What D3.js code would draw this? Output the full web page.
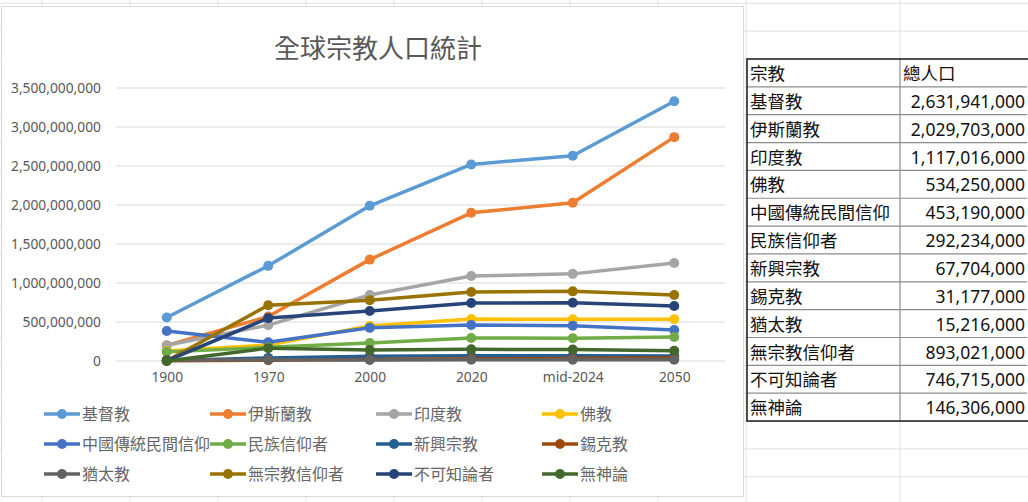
<!DOCTYPE html>
<html>
<head>
<meta charset="utf-8">
<script src="https://cdn.jsdelivr.net/npm/d3@7"></script>
<style>
  body { margin: 0; background: #fff; }
  svg text { font-family: "Noto Sans", "Noto Sans CJK TC", sans-serif; }
  .cjk { font-family: "Noto Sans CJK TC", sans-serif; }
</style>
</head>
<body>
<svg id="chart"></svg>
<script>
// data
var years = ["1900", "1970", "2000", "2020", "mid-2024", "2050"];
var religions = ["基督教", "伊斯蘭教", "印度教", "佛教", "中國傳統民間信仰", "民族信仰者",
    "新興宗教", "錫克教", "猶太教", "無宗教信仰者", "不可知論者", "無神論"];
var colors = ["#5B9BD5", "#ED7D31", "#A5A5A5", "#FFC000", "#4472C4", "#70AD47",
    "#255E91", "#9E480E", "#636363", "#997300", "#264478", "#43682B"];

// population per year (mid-2024 from table)
var christians   = [558000000, 1220000000, 1990000000, 2520000000, 2631941000, 3330000000];
var muslims      = [200000000, 570000000, 1300000000, 1900000000, 2029703000, 2870000000];
var hindus       = [203000000, 460000000, 846000000, 1090000000, 1117016000, 1256000000];
var buddhists    = [127000000, 205000000, 450000000, 538000000, 534250000, 535000000];
var folk         = [385000000, 240000000, 425000000, 462000000, 453190000, 397000000];
var ethnic       = [117000000, 175000000, 231000000, 295000000, 292234000, 308000000];
var newrel       = [6000000, 40000000, 62000000, 66000000, 67704000, 64000000];
var sikhs        = [3000000, 10000000, 20000000, 28000000, 31177000, 38000000];
var jews         = [12000000, 15000000, 14000000, 15000000, 15216000, 16000000];
var nonreligious = [3000000, 715000000, 780000000, 885000000, 893021000, 846000000];
var agnostics    = [3000000, 550000000, 640000000, 744000000, 746715000, 705000000];
var atheists     = [200000, 165000000, 141000000, 150000000, 146306000, 131000000];

var seriesValues = [christians, muslims, hindus, buddhists, folk, ethnic,
    newrel, sikhs, jews, nonreligious, agnostics, atheists];
var yTicks = [0, 500000000, 1000000000, 1500000000, 2000000000, 2500000000, 3000000000, 3500000000];

var tableHeader = ["宗教", "總人口"];
var totals = [2631941000, 2029703000, 1117016000, 534250000, 453190000, 292234000,
    67704000, 31177000, 15216000, 893021000, 746715000, 146306000];

// svg
var svgWidth = 1028, svgHeight = 502;
var svg = d3.select("#chart").attr("width", svgWidth).attr("height", svgHeight);

// spreadsheet grid behind everything
var rowH = 27.85;
var colLines = d3.range(42, 750, 88).concat([900]);
var rowLines = d3.range(3.3, svgHeight, rowH);
svg.append("g").selectAll("line").data(colLines).enter().append("line")
    .attr("x1", d => d).attr("x2", d => d).attr("y1", 0).attr("y2", svgHeight)
    .attr("stroke", "#e1e1e1").attr("stroke-width", 1);
svg.append("g").selectAll("line").data(rowLines).enter().append("line")
    .attr("x1", 0).attr("x2", svgWidth).attr("y1", d => d).attr("y2", d => d)
    .attr("stroke", "#e1e1e1").attr("stroke-width", 1);

// chart area
svg.append("rect")
    .attr("x", 1.5).attr("y", 6.5).attr("width", 742).attr("height", 490)
    .attr("fill", "#fff").attr("stroke", "#d9d9d9").attr("stroke-width", 1);

svg.append("text")
    .attr("class", "cjk")
    .attr("x", 378).attr("y", 58)
    .attr("text-anchor", "middle")
    .attr("font-size", "26px")
    .attr("fill", "#595959")
    .text("全球宗教人口統計");

var xScale = d3.scalePoint().domain(years).range([116, 725]).padding(0.5);
var yScale = d3.scaleLinear().domain([0, 3500000000]).range([361, 88]);

// gridlines
svg.append("g").selectAll("line").data(yTicks).enter().append("line")
    .attr("x1", 116).attr("x2", 725)
    .attr("y1", d => yScale(d)).attr("y2", d => yScale(d))
    .attr("stroke", "#d9d9d9").attr("stroke-width", 1.2);

// y axis
var yAxis = d3.axisLeft(yScale).tickValues(yTicks).tickFormat(d3.format(",")).tickSize(0).tickPadding(0);
var yG = svg.append("g").attr("transform", "translate(101,0)").call(yAxis);
yG.select(".domain").remove();
yG.selectAll("text").attr("font-size", "13.8px").attr("fill", "#595959")
    .style("font-family", "'Noto Sans', sans-serif");

// x axis
var xAxis = d3.axisBottom(xScale).tickSize(0).tickPadding(0);
var xG = svg.append("g").attr("transform", "translate(0,372)").call(xAxis);
xG.select(".domain").remove();
xG.selectAll("text").attr("font-size", "13.8px").attr("fill", "#595959")
    .style("font-family", "'Noto Sans', sans-serif");

// lines
var line = d3.line().x((d, i) => xScale(years[i])).y(d => yScale(d));
var seriesG = svg.append("g").selectAll("g").data(seriesValues).enter().append("g");
seriesG.append("path")
    .attr("d", d => line(d))
    .attr("fill", "none")
    .attr("stroke", (d, i) => colors[i])
    .attr("stroke-width", 3.5)
    .attr("stroke-linejoin", "round");
seriesG.each(function(vals, si) {
    d3.select(this).selectAll("circle").data(vals).enter().append("circle")
        .attr("cx", (d, i) => xScale(years[i]))
        .attr("cy", d => yScale(d))
        .attr("r", 5)
        .attr("fill", colors[si]);
});

// legend
var legend = svg.append("g").selectAll("g").data(religions).enter().append("g")
    .attr("transform", (d, i) => `translate(${44 + (i % 4) * 166}, ${414 + Math.floor(i / 4) * 30})`);
legend.append("line")
    .attr("x1", 0).attr("x2", 36).attr("y1", 0).attr("y2", 0)
    .attr("stroke", (d, i) => colors[i]).attr("stroke-width", 3.5);
legend.append("circle")
    .attr("cx", 18).attr("cy", 0).attr("r", 5)
    .attr("fill", (d, i) => colors[i]);
legend.append("text")
    .attr("class", "cjk")
    .attr("x", 38).attr("y", 6)
    .attr("font-size", "16px")
    .attr("fill", "#666")
    .text(d => d);

// table
var tLeft = 747, tMid = 900, tRight = 1027, tTop = 59;
var rows = [tableHeader].concat(religions.map((r, i) => [r, d3.format(",")(totals[i])]));
var tableG = svg.append("g");
tableG.append("rect").attr("x", tLeft).attr("y", tTop).attr("width", tRight - tLeft)
    .attr("height", rows.length * rowH).attr("fill", "#fff");
tableG.selectAll("line.row").data(d3.range(1, rows.length)).enter().append("line")
    .attr("x1", tLeft).attr("x2", tRight)
    .attr("y1", d => tTop + d * rowH).attr("y2", d => tTop + d * rowH)
    .attr("stroke", "#8c8c8c").attr("stroke-width", 1.2);
tableG.append("line").attr("x1", tMid).attr("x2", tMid)
    .attr("y1", tTop).attr("y2", tTop + rows.length * rowH)
    .attr("stroke", "#8c8c8c").attr("stroke-width", 1.2);
tableG.append("rect").attr("x", tLeft).attr("y", tTop).attr("width", tRight - tLeft + 4)
    .attr("height", rows.length * rowH).attr("fill", "none")
    .attr("stroke", "#262626").attr("stroke-width", 1.6);

var rowG = tableG.selectAll("g.r").data(rows).enter().append("g")
    .attr("transform", (d, i) => `translate(0, ${tTop + i * rowH + 21})`);
rowG.append("text")
    .attr("class", "cjk")
    .attr("x", tLeft + 3)
    .attr("font-size", "17.5px")
    .attr("fill", "#111")
    .text(d => d[0]);
rowG.append("text")
    .attr("class", (d, i) => i === 0 ? "cjk" : null)
    .attr("x", (d, i) => i === 0 ? tMid + 3 : tRight - 2)
    .attr("text-anchor", (d, i) => i === 0 ? "start" : "end")
    .attr("font-size", "17.5px")
    .attr("fill", "#111")
    .text(d => d[1]);
</script>
</body>
</html>
